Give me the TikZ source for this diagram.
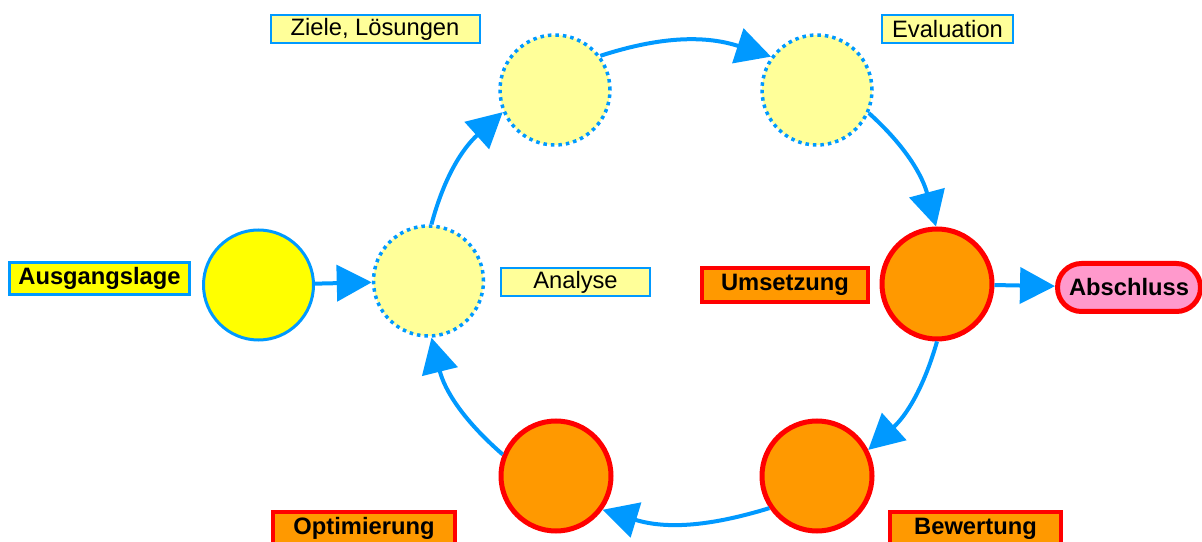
\documentclass[tikz,border=0pt]{standalone}
\usepackage{fontspec}
\setmainfont{Liberation Sans}
\usetikzlibrary{arrows.meta}
\definecolor{cycleblue}{HTML}{0099FF}
\definecolor{paleyellow}{HTML}{FFFF99}
\definecolor{sunyellow}{HTML}{FFFF00}
\definecolor{phaseorange}{HTML}{FF9900}
\definecolor{alarmred}{HTML}{FF0000}
\definecolor{endpink}{HTML}{FF99CC}

\begin{document}
\begin{tikzpicture}[
  phase/.style={circle, minimum size=2.2cm, inner sep=0pt},
  startphase/.style={phase, fill=sunyellow, draw=cycleblue, line width=0.06cm},
  openphase/.style={phase, fill=paleyellow, draw=cycleblue, line width=0.07cm, dash pattern=on 0.07cm off 0.08cm},
  donephase/.style={phase, fill=phaseorange, draw=alarmred, line width=0.1cm},
  plainlabel/.style={rectangle, fill=paleyellow, draw=cycleblue, line width=0.04cm, minimum height=0.56cm, inner sep=0pt, font=\fontsize{13.5}{16}\selectfont},
  boldlabel/.style={rectangle, draw=alarmred, fill=phaseorange, line width=0.08cm, minimum height=0.66cm, inner sep=0pt, font=\fontsize{13.5}{16}\selectfont\bfseries},
  flow/.style={draw=cycleblue, line width=0.08cm, -{Triangle[length=0.7cm,width=0.72cm]}}
]
\useasboundingbox (0cm,0cm) rectangle (24.04cm,10.82cm);
\node[startphase] (start) at (5.17cm, 5.12cm) {};
\node[openphase] (ana) at (8.57cm, 5.20cm) {};
\node[openphase] (ziel) at (11.10cm, 9.02cm) {};
\node[openphase] (eval) at (16.34cm, 9.02cm) {};
\node[donephase] (ums) at (18.74cm, 5.14cm) {};
\node[donephase] (bew) at (16.34cm, 1.30cm) {};
\node[donephase] (opt) at (11.12cm, 1.30cm) {};
\node[boldlabel, fill=sunyellow, draw=cycleblue, line width=0.06cm, minimum width=3.6cm, minimum height=0.64cm] (lAus) at (1.99cm, 5.25cm) {Ausgangslage};
\node[plainlabel, minimum width=4.18cm] (lZiel) at (7.50cm, 10.24cm) {Ziele, Lösungen};
\node[plainlabel, minimum width=2.62cm] (lEval) at (18.95cm, 10.24cm) {Evaluation};
\node[plainlabel, minimum width=2.98cm] (lAna) at (11.51cm, 5.17cm) {Analyse};
\node[boldlabel, minimum width=3.32cm, minimum height=0.68cm] (lUms) at (15.70cm, 5.12cm) {Umsetzung};
\node[boldlabel, fill=endpink, line width=0.1cm, rounded corners=0.48cm, minimum width=2.86cm, minimum height=0.96cm] (lAbs) at (22.58cm, 5.07cm) {Abschluss};
\node[boldlabel, minimum width=3.64cm] (lOpt) at (7.28cm, 0.25cm) {Optimierung};
\node[boldlabel, minimum width=3.42cm] (lBew) at (19.51cm, 0.25cm) {Bewertung};
\draw[flow] (start) -- (ana);
\draw[flow] (ana.87) to[out=75, in=222] (ziel.203);
\draw[flow] (ziel.37) to[out=18, in=162] (eval.144);
\draw[flow] (eval.-24) to[out=-42, in=105] (ums.91);
\draw[flow] (ums.-90) to[out=-106, in=42] (bew.27);
\draw[flow] (bew.214) to[out=197, in=-17] (opt.-36);
\draw[flow] (opt.158) to[out=139, in=-76] (ana.-87);
\draw[flow] (ums) -- (lAbs);
\end{tikzpicture}
\end{document}
